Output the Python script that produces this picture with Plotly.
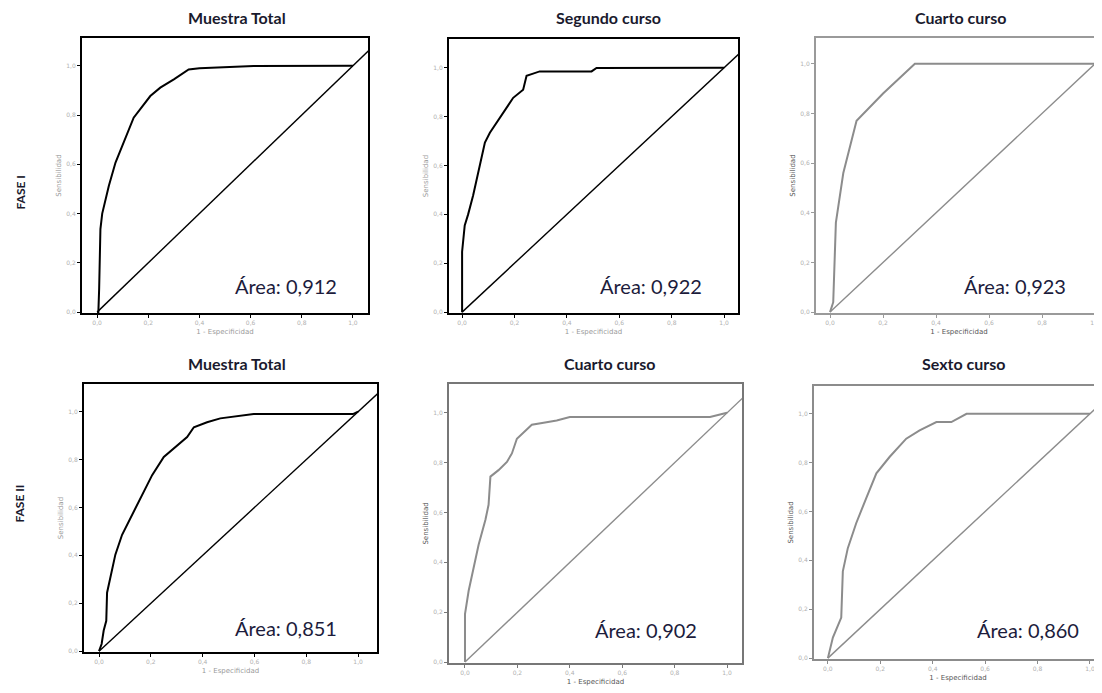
import plotly.graph_objects as go

W, H = 1102, 693
OFF = 8  # page body margin
FW, FH = W - OFF, H - OFF

# ---------------- data ----------------
titles = ["Muestra Total", "Segundo curso", "Cuarto curso",
          "Muestra Total", "Cuarto curso", "Sexto curso"]
areas = ["0,912", "0,922", "0,923", "0,851", "0,902", "0,860"]
fases = ["FASE I", "FASE II"]

# Fase I - Muestra Total
roc1_x = [0, 0.005, 0.008, 0.013, 0.02, 0.033, 0.046, 0.072, 0.104, 0.143, 0.208, 0.247, 0.30, 0.358, 0.40, 0.612, 1.0]
roc1_y = [0, 0.0, 0.094, 0.337, 0.40, 0.459, 0.513, 0.607, 0.688, 0.789, 0.877, 0.911, 0.945, 0.985, 0.99, 0.999, 1.0]
# Fase I - Segundo curso
roc2_x = [0, 0.0, 0.01, 0.023, 0.042, 0.067, 0.087, 0.106, 0.131, 0.156, 0.195, 0.233, 0.246, 0.271, 0.296, 0.494, 0.513, 1.0]
roc2_y = [0, 0.247, 0.355, 0.40, 0.477, 0.60, 0.694, 0.734, 0.775, 0.816, 0.877, 0.91, 0.967, 0.976, 0.985, 0.985, 0.999, 1.0]
# Fase I - Cuarto curso
roc3_x = [0, 0.012, 0.022, 0.05, 0.10, 0.20, 0.32, 1.0]
roc3_y = [0, 0.04, 0.36, 0.56, 0.77, 0.88, 1.0, 1.0]
# Fase II - Muestra Total
roc4_x = [0, 0.01, 0.018, 0.028, 0.031, 0.044, 0.063, 0.089, 0.121, 0.16, 0.205, 0.25, 0.288, 0.34, 0.366, 0.417, 0.468, 0.546, 0.597, 0.98, 1.0]
roc4_y = [0, 0.03, 0.086, 0.127, 0.244, 0.307, 0.403, 0.486, 0.555, 0.638, 0.735, 0.811, 0.845, 0.894, 0.935, 0.956, 0.972, 0.983, 0.99, 0.99, 1.0]
# Fase II - Cuarto curso
roc5_x = [0, 0.0, 0.014, 0.033, 0.052, 0.078, 0.09, 0.097, 0.128, 0.16, 0.179, 0.198, 0.224, 0.255, 0.30, 0.35, 0.40, 0.935, 1.0]
roc5_y = [0, 0.193, 0.286, 0.378, 0.471, 0.571, 0.631, 0.744, 0.77, 0.803, 0.837, 0.896, 0.923, 0.952, 0.96, 0.969, 0.983, 0.983, 1.0]
# Fase II - Sexto curso
roc6_x = [0, 0.019, 0.051, 0.057, 0.076, 0.108, 0.146, 0.185, 0.236, 0.299, 0.35, 0.414, 0.471, 0.529, 1.0]
roc6_y = [0, 0.084, 0.166, 0.355, 0.45, 0.552, 0.654, 0.756, 0.824, 0.898, 0.932, 0.966, 0.966, 1.0, 1.0]

diag_x = [0, 1.1]
diag_y = [0, 1.1]

tick_vals = [0, 0.2, 0.4, 0.6, 0.8, 1.0]
tick_text = ["0,0", "0,2", "0,4", "0,6", "0,8", "1,0"]

rocs = [(roc1_x, roc1_y), (roc2_x, roc2_y), (roc3_x, roc3_y),
        (roc4_x, roc4_y), (roc5_x, roc5_y), (roc6_x, roc6_y)]

# ---------------- layout config (page pixel coordinates) ----------------
boxes = [(82, 368, 38, 314), (449, 738, 39, 314), (816, 1102, 38, 314),
         (84, 377, 385, 654), (449, 742, 385, 665), (814, 1102, 387, 661)]
xranges = [[-0.059, 1.059], [-0.050, 1.053], [-0.053, 1.026],
           [-0.058, 1.073], [-0.061, 1.057], [-0.053, 1.046]]
yranges = [[-0.004, 1.113], [-0.004, 1.118], [-0.004, 1.104],
           [-0.004, 1.116], [-0.004, 1.116], [-0.004, 1.114]]
line_cols = ["#000000", "#000000", "#8c8c8c", "#000000", "#8c8c8c", "#8c8c8c"]
frame_cols = ["#000000", "#000000", "#9a9a9a", "#000000", "#777777", "#8c8c8c"]
clipped = [False, False, True, False, False, True]
title_font = ["#9a9a9a", "#9a9a9a", "#555555", "#9a9a9a", "#555555", "#555555"]
area_pos = [(233, 287), (598, 287), (962, 287), (233, 630), (593, 632), (975, 632)]
title_pos = [(237, 18), (608, 18), (960, 18), (237, 365), (609, 365), (963, 365)]


def px(x):
    return (x - OFF) / FW


def py(y):
    return 1 - (y - OFF) / FH


fig = go.Figure()
layout = dict(width=FW, height=FH, margin=dict(l=0, r=0, t=0, b=0),
              paper_bgcolor="white", plot_bgcolor="white", showlegend=False)

annotations = []
for i in range(6):
    n = i + 1
    xa = "x" if n == 1 else f"x{n}"
    ya = "y" if n == 1 else f"y{n}"
    l, r, t, b = boxes[i]
    rx, ry = rocs[i]
    fig.add_trace(go.Scatter(x=diag_x, y=diag_y, mode="lines", xaxis=xa, yaxis=ya,
                             line=dict(color=line_cols[i], width=1.4), hoverinfo="skip"))
    fig.add_trace(go.Scatter(x=rx, y=ry, mode="lines", xaxis=xa, yaxis=ya,
                             line=dict(color=line_cols[i], width=2), hoverinfo="skip"))
    axcommon = dict(showgrid=False, zeroline=False, showline=True,
                    linecolor=frame_cols[i], linewidth=2, ticks="outside", ticklen=3,
                    tickcolor=frame_cols[i], tickwidth=1,
                    tickvals=tick_vals, ticktext=tick_text,
                    tickfont=dict(family="DejaVu Sans", size=6, color="#b0b0b0"))
    layout[f"xaxis{n if n > 1 else ''}"] = dict(
        axcommon, domain=[max(0, px(l)), min(1, px(r))], range=xranges[i], anchor=ya, mirror=True,
        title=dict(text="1 - Especificidad", standoff=4,
                   font=dict(family="DejaVu Sans", size=7, color=title_font[i])))
    layout[f"yaxis{n if n > 1 else ''}"] = dict(
        axcommon, domain=[py(b), py(t)], range=yranges[i], anchor=xa,
        mirror=(not clipped[i]),
        title=dict(text="Sensibilidad", standoff=4,
                   font=dict(family="DejaVu Sans", size=7, color=title_font[i])))
    tx, ty = title_pos[i]
    annotations.append(dict(text=f"<b>{titles[i]}</b>", x=px(tx), y=py(ty),
                            xref="paper", yref="paper", showarrow=False,
                            xanchor="center", yanchor="middle",
                            font=dict(family="Lato", size=16, color="#1a1a2e")))
    ax_, ay_ = area_pos[i]
    annotations.append(dict(text=f"Área: {areas[i]}", x=px(ax_), y=py(ay_),
                            xref="paper", yref="paper", showarrow=False,
                            xanchor="left", yanchor="middle",
                            font=dict(family="Lato", size=20, color="#1c1c3c")))

for j, fy in enumerate([193, 505]):
    annotations.append(dict(text=f"<b>{fases[j]}</b>", x=px(20), y=py(fy),
                            xref="paper", yref="paper", showarrow=False, textangle=-90,
                            xanchor="center", yanchor="middle",
                            font=dict(family="Lato", size=12, color="#1a1a2e")))

layout["annotations"] = annotations
fig.update_layout(**layout)
fig.write_html("out.html")
